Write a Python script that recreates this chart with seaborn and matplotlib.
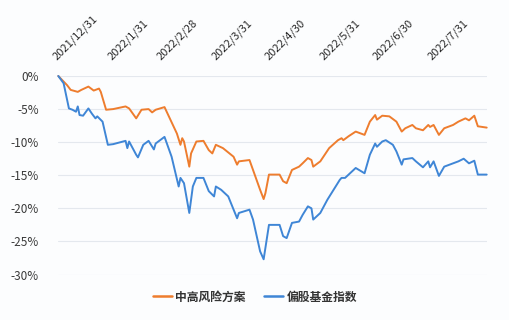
import numpy as np
import pandas as pd
import matplotlib
matplotlib.use("Agg")
import matplotlib.pyplot as plt
import seaborn as sns
from matplotlib.lines import Line2D

series_names = ["中高风险方案", "偏股基金指数"]
colors = ["#ee7d2e", "#3f86d6"]

# calendar-day offsets from 2021-12-31 and cumulative return (%)
orange_days = [0, 5, 7, 11, 13, 17, 20, 23, 24, 27, 31, 38, 40, 44, 47, 51, 53, 55, 60, 67, 69, 70, 71, 74, 75,
               78, 82, 85, 87, 89, 93, 99, 101, 102, 108, 110, 114, 116, 117, 119, 125, 127, 129, 132, 136,
               138, 141, 143, 144, 148, 153, 158, 160, 161, 164, 168, 173, 176, 179, 180, 183, 187, 191,
               194, 196, 200, 202, 206, 209, 210, 212, 215, 218, 223, 226, 230, 232, 235, 237, 242]
orange_vals = [0.0, -1.4, -2.1, -2.4, -2.1, -1.6, -2.2, -1.9, -2.4, -5.1, -5.0, -4.6, -4.9, -6.4, -5.1, -5.0,
               -5.5, -5.1, -4.7, -8.7, -10.4, -9.4, -9.9, -13.7, -11.7, -9.9, -9.8, -11.2, -11.7, -10.4,
               -10.9, -12.2, -13.4, -12.9, -12.7, -14.2, -17.2, -18.6, -17.7, -14.9, -14.9, -15.9, -16.2,
               -14.2, -13.7, -13.2, -12.4, -12.7, -13.7, -12.9, -10.9, -9.7, -9.4, -9.7, -9.1, -8.4, -8.9,
               -6.9, -5.9, -6.6, -6.0, -6.1, -6.9, -8.4, -7.9, -7.4, -7.9, -8.2, -7.4, -7.7, -7.4, -8.9,
               -7.9, -7.4, -6.9, -6.4, -6.7, -6.0, -7.6, -7.8]

blue_days = [0, 3, 6, 8, 10, 11, 12, 14, 17, 19, 21, 22, 25, 28, 31, 38, 39, 40, 44, 45, 48, 51, 54, 55, 60,
             64, 68, 69, 71, 74, 76, 78, 82, 85, 88, 89, 92, 96, 101, 102, 108, 110, 114, 116, 119, 125, 127,
             129, 132, 136, 138, 141, 143, 144, 148, 152, 159, 160, 162, 164, 168, 173, 176, 179, 180, 183,
             185, 189, 191, 194, 195, 200, 202, 206, 209, 210, 212, 215, 218, 223, 226, 229, 232, 235, 237, 242]
blue_vals = [0.0, -1.1, -4.9, -5.1, -5.4, -4.6, -5.9, -6.0, -4.9, -5.7, -6.4, -6.1, -6.9, -10.4, -10.3, -9.8,
             -10.9, -9.9, -11.9, -12.3, -10.4, -9.8, -11.1, -10.2, -9.2, -12.2, -16.7, -15.4, -16.2, -20.7,
             -16.7, -15.4, -15.4, -17.4, -18.2, -16.7, -17.2, -18.2, -21.5, -20.7, -20.2, -21.7, -26.5,
             -27.7, -22.5, -22.5, -24.2, -24.5, -22.2, -22.0, -21.0, -19.7, -20.0, -21.7, -20.7, -18.7,
             -15.7, -15.4, -15.4, -14.9, -13.9, -14.7, -11.9, -10.2, -10.7, -9.9, -9.7, -10.4, -11.4,
             -13.4, -12.6, -12.4, -12.9, -13.8, -12.9, -13.8, -12.9, -15.1, -13.7, -13.2, -12.9, -12.5,
             -13.2, -12.8, -14.9, -14.9]

tick_dates = ["2021-12-31", "2022-01-31", "2022-02-28", "2022-03-31", "2022-04-30",
              "2022-05-31", "2022-06-30", "2022-07-31"]
y_ticks = [0, -5, -10, -15, -20, -25, -30]

start = pd.Timestamp("2021-12-31")
df = pd.concat([
    pd.DataFrame({"date": start + pd.to_timedelta(orange_days, unit="D"), "value": orange_vals,
                  "series": series_names[0]}),
    pd.DataFrame({"date": start + pd.to_timedelta(blue_days, unit="D"), "value": blue_vals,
                  "series": series_names[1]}),
])

sns.set_theme(style="white")
plt.rcParams["font.family"] = ["Noto Sans CJK SC", "DejaVu Sans"]

bg = "#fcfdfe"
fig = plt.figure(figsize=(5.1, 3.2), dpi=100, facecolor=bg)
ax = fig.add_axes([58.3 / 510, 1 - 274.5 / 320, 428.4 / 510, 198.5 / 320])
ax.set_facecolor(bg)

sns.lineplot(data=df, x="date", y="value", hue="series", palette=colors, ax=ax,
             linewidth=1.4, legend=False, estimator=None, sort=True)

ax.set_xlim(start, start + pd.Timedelta(days=242))
ax.set_ylim(-30, 0)
for ln in ax.lines:
    ln.set_clip_on(False)

ax.set_yticks(y_ticks)
ax.set_yticklabels([f"{v}%" for v in y_ticks], fontsize=8.5, color="#3a3a3a")
ax.grid(axis="y", color="#e4e8ee", linewidth=0.8)
ax.set_axisbelow(True)

td = [pd.Timestamp(d) for d in tick_dates]
ax.xaxis.tick_top()
ax.set_xticks(td)
ax.set_xticklabels([f"{d.year}/{d.month}/{d.day}" for d in td], rotation=45, ha="left",
                   va="bottom", rotation_mode="anchor", fontsize=8, color="#2a2a2a")
ax.tick_params(axis="x", length=0, pad=10)
ax.tick_params(axis="y", length=0, pad=14)
ax.set_xlabel("")
ax.set_ylabel("")
for s in ax.spines.values():
    s.set_visible(False)

handles = [Line2D([0], [0], color=c, lw=1.8) for c in colors]
leg = fig.legend(handles, series_names, loc="center", bbox_to_anchor=(0.5, 1 - 297 / 320), ncol=2,
                 frameon=False, fontsize=8.5, handlelength=1.6, handletextpad=0.3, columnspacing=1.6,
                 labelcolor="#333333", prop={"weight": "bold", "size": 8.5})

fig.savefig("out.png", dpi=100, facecolor=fig.get_facecolor())
